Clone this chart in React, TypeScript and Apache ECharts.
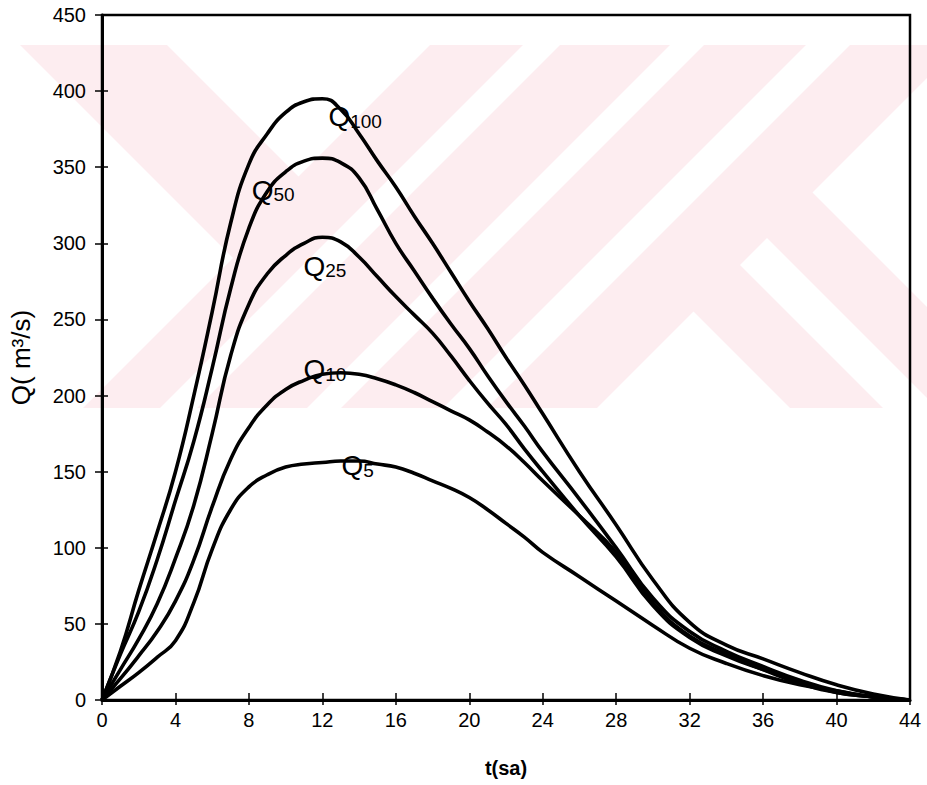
import { useEffect, useRef } from "react";
import * as echarts from "echarts";

// time axis (hours) shared by all hydrographs
const hours = [0, 1, 2, 3, 4, 5, 6, 7, 8, 9, 10, 11, 12, 13, 14, 15, 16, 17, 18, 19, 20, 21, 22, 23, 24, 26, 28, 30, 32, 34, 36, 38, 40, 42, 44];

const q100 = [0, 32, 72, 110, 150, 200, 255, 313, 352, 372, 386, 393, 395, 388, 372, 354, 337, 318, 300, 281, 262, 244, 225, 207, 188, 150, 115, 79, 51, 36, 27, 18, 10, 4, 0];
const q50 = [0, 30, 58, 92, 131, 170, 218, 270, 310, 334, 347, 354, 356, 353, 343, 322, 300, 282, 264, 247, 231, 213, 196, 180, 163, 132, 100, 67, 45, 32, 22, 13, 6, 2, 0];
const q25 = [0, 20, 40, 63, 93, 128, 175, 226, 260, 280, 292, 300, 304, 301, 291, 278, 265, 253, 241, 226, 210, 195, 181, 165, 150, 121, 94, 62, 41, 29, 20, 12, 5, 2, 0];
const q10 = [0, 14, 29, 45, 65, 92, 127, 158, 179, 194, 204, 210, 214, 215, 214, 211, 207, 202, 196, 190, 184, 176, 167, 156, 144, 121, 97, 64, 42, 30, 20, 11, 5, 2, 0];
const q5 = [0, 9, 18, 28, 39, 64, 99, 125, 140, 148, 153, 155, 156, 157, 157, 155, 153, 149, 144, 139, 133, 125, 116, 107, 97, 81, 65, 49, 34, 24, 16, 10, 6, 2, 0];

const seriesNames = ["Q100", "Q50", "Q25", "Q10", "Q5"];
const seriesSubs = ["100", "50", "25", "10", "5"];
const seriesValues = [q100, q50, q25, q10, q5];

// label anchor positions in data coordinates (hours, m3/s)
const labelT = [12.33, 8.15, 10.97, 10.97, 13.04];
const labelQ = [383, 335, 285, 217, 154];

const xTicks = { min: 0, max: 44, interval: 4 };
const yTicks = { min: 0, max: 450, interval: 50 };

const FONT = "'Liberation Sans', Arial, Helvetica, sans-serif";
const PINK = "#fdedf0";

// faint background watermark (decoration)
const whiteShapes: number[][][] = [
  [[20, 45], [233, 258], [83, 408], [20, 408]],
  [[167, 45], [430, 45], [298.5, 176.5]],
  [[523, 45], [560, 45], [197, 408], [160, 408]],
  [[670, 45], [704, 45], [341, 408], [307, 408]],
  [[806, 45], [850, 45], [487, 408], [443, 408]],
  [[597, 408], [693.5, 311.5], [790, 408]],
  [[740, 265], [767, 238], [937, 408], [883, 408]],
  [[812.5, 192.5], [960, 45], [1100, 45], [1100, 408], [1028, 408]],
];

export default function App() {
  const ref = useRef<HTMLDivElement>(null);

  useEffect(() => {
    if (!ref.current) return;
    const chart = echarts.init(ref.current, null, { renderer: "svg" });

    const graphic: any[] = [
      {
        type: "rect",
        silent: true,
        z: -20,
        shape: { x: 20, y: 45, width: 907, height: 363 },
        style: { fill: PINK },
      },
      ...whiteShapes.map((pts) => ({
        type: "polygon",
        silent: true,
        z: -19,
        shape: { points: pts },
        style: { fill: "#ffffff" },
      })),
    ];

    const series = seriesValues.map((vals, i) => ({
      name: seriesNames[i],
      type: "line",
      data: hours.map((t, k) => [t, vals[k]]),
      showSymbol: false,
      smooth: 0.5,
      lineStyle: { color: "#000", width: 3.6 },
      itemStyle: { color: "#000" },
      markPoint: {
        symbol: "circle",
        symbolSize: 0,
        silent: true,
        data: [{ coord: [labelT[i], labelQ[i]] }],
        label: {
          show: true,
          position: "right",
          distance: 0,
          formatter: `{q|Q}{s|${seriesSubs[i]}}`,
          rich: {
            q: { fontSize: 28, fontFamily: FONT, color: "#000", lineHeight: 28, verticalAlign: "bottom" },
            s: { fontSize: 19, fontFamily: FONT, color: "#000", lineHeight: 19, verticalAlign: "bottom" },
          },
        },
      },
    }));

    const tickLabel = { color: "#000", fontSize: 20, fontFamily: FONT };

    chart.setOption({
      animation: false,
      backgroundColor: "#ffffff",
      graphic,
      grid: {
        left: 100,
        right: 17,
        top: 15,
        bottom: 85,
        show: true,
        borderColor: "#000",
        borderWidth: 2.5,
      },
      xAxis: [
        {
          type: "value",
          ...xTicks,
          name: "t(sa)",
          nameLocation: "middle",
          nameGap: 58,
          nameTextStyle: { color: "#000", fontSize: 20, fontWeight: "bold", fontFamily: FONT },
          axisLine: { show: true, lineStyle: { color: "#000", width: 3 } },
          axisTick: { show: true, length: 5, lineStyle: { color: "#000", width: 1.5 } },
          axisLabel: { ...tickLabel, margin: 10 },
          splitLine: { show: false },
        },
        {
          type: "value",
          ...xTicks,
          position: "bottom",
          axisLine: { show: false },
          axisTick: { show: true, inside: true, length: 7, lineStyle: { color: "#000", width: 1.5 } },
          axisLabel: { show: false },
          splitLine: { show: false },
        },
      ],
      yAxis: [
        {
          type: "value",
          ...yTicks,
          name: "Q( m³/s)",
          nameLocation: "middle",
          nameRotate: 90,
          nameGap: 68,
          nameTextStyle: { color: "#000", fontSize: 26, fontFamily: FONT },
          axisLine: { show: true, lineStyle: { color: "#000", width: 3 } },
          axisTick: { show: true, length: 7, lineStyle: { color: "#000", width: 1.5 } },
          axisLabel: { ...tickLabel, margin: 16 },
          splitLine: { show: false },
        },
        {
          type: "value",
          ...yTicks,
          position: "left",
          axisLine: { show: false },
          axisTick: { show: true, inside: true, length: 6, lineStyle: { color: "#000", width: 1.5 } },
          axisLabel: { show: false },
          splitLine: { show: false },
        },
      ],
      series,
    });

    return () => chart.dispose();
  }, []);

  return (
    <div
      ref={ref}
      style={{ position: "absolute", left: 0, top: 0, width: 927, height: 785 }}
    />
  );
}
